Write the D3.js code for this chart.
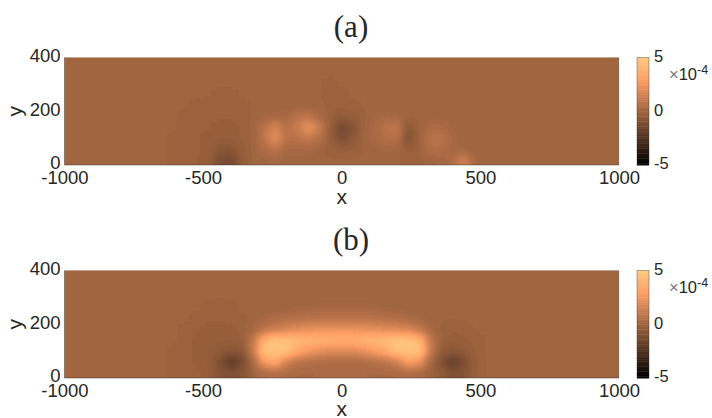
<!DOCTYPE html>
<html><head><meta charset="utf-8">
<script src="https://cdn.jsdelivr.net/npm/d3@7/dist/d3.min.js"></script>
<style>html,body{margin:0;background:#fff}svg{display:block}text{font-family:"Liberation Sans",Arial,sans-serif;fill:#262626}</style>
</head><body><svg id="c" width="712" height="418"></svg>
<script>
// Field values in units of 1e-4.
const xCentres = [-640,-600,-560,-520,-480,-440,-400,-360,-320,-280,-240,-200,-160,-120,-80,-40,0,40,80,120,160,200,240,280,320,360,400,440,480,520];
const yCentres = [300,260,220,180,140,100,60,20];
const fieldA = [
 [0,0,0,0,0,0,0,0,0,0,0,0,0,0,0,-.05,0,0,0,0,0,0,0,0,0,0,0,0,0,0],
 [0,0,0,0,0,-.06,-.06,0,0,0,0,0,0,0,0,-.08,-.05,0,0,0,0,0,0,0,0,0,0,0,0,0],
 [0,0,0,-.05,-.1,-.12,-.12,-.05,0,0,0,0,0,.12,.05,-.08,-.1,-.05,0,0,0,0,0,0,0,0,0,0,0,0],
 [0,0,-.08,-.12,-.12,-.12,-.12,-.1,0,.15,.25,.3,.8,.9,.35,-.1,-.4,-.3,-.05,.2,.25,.2,.1,0,.1,.1,0,0,0,0],
 [0,0,-.12,-.15,-.15,-.2,-.2,-.12,0,.8,1.8,.7,1.3,2.6,1.3,-.3,-1.4,-.9,0,.35,.9,1.0,-.6,0,.4,.4,.1,0,0,0],
 [0,-.05,-.12,-.15,-.2,-.3,-.3,-.12,0,1.0,2.3,.8,.8,1.2,.7,-.25,-1.2,-.6,0,.35,.7,.8,-1.0,0,.8,.9,.3,0,0,0],
 [0,-.05,-.1,-.15,-.2,-.6,-.7,-.2,0,.5,1.0,.3,.3,.3,.1,-.1,-.3,-.1,0,.1,.2,.1,-.3,0,.6,.6,.2,.1,0,0],
 [0,-.05,-.1,-.15,-.3,-1.1,-1.3,-.4,.05,.1,.2,.1,.1,.1,.05,0,0,0,0,.05,.1,0,-.05,-.05,.1,.2,.4,1.5,.2,0]
];
const fieldB = [
 [0,0,0,0,0,0,0,0,0,0,0,0,0,0,0,0,0,0,0,0,0,0,0,0,0,0,0,0,0,0],
 [0,0,0,0,-.05,-.08,-.04,0,0,0,0,.1,.15,.2,.25,.25,.25,.25,.25,.2,.15,.1,0,0,0,0,0,0,0,0],
 [0,0,0,-.06,-.12,-.15,-.1,-.05,.05,.2,.4,.6,.7,.8,.9,.9,.9,.9,.9,.8,.7,.6,.4,.2,.05,0,0,0,0,0],
 [0,0,-.05,-.15,-.2,-.2,-.2,-.1,.2,.9,1.5,1.8,2.1,2.3,2.4,2.5,2.5,2.5,2.4,2.3,2.1,2.0,1.8,1.1,.3,-.05,-.15,-.1,0,0],
 [0,0,-.08,-.2,-.25,-.3,-.3,-.2,1.0,4.0,5.8,4.8,4.4,4.2,4.1,4.0,4.0,4.0,4.2,4.4,4.7,5.0,5.4,4.2,1.1,-.1,-.25,-.2,-.1,0],
 [0,-.04,-.1,-.2,-.3,-.5,-.7,-.7,1.2,5.0,6.5,5,3.6,2.8,2.3,2.0,2.0,2.0,2.5,3,3.8,5.2,6.3,5.0,1.2,-.4,-.6,-.4,-.15,0],
 [0,-.04,-.1,-.2,-.3,-1,-2.1,-1.4,.2,2.8,3.8,1.6,.9,.6,.5,.4,.4,.4,.5,.7,1,1.6,3.2,2.6,.2,-1,-2.0,-1.2,-.2,0],
 [0,-.04,-.05,-.1,-.3,-.8,-1.0,-.8,0,.4,.6,.4,.3,.3,.35,.35,.35,.35,.35,.3,.3,.3,.5,.3,0,-.5,-1.0,-.8,-.2,0]
];
const xTicks = [-1000,-500,0,500,1000];
const yTicks = [0,200,400];
const cbTicks = [-5,0,5];
const panelTitles = ["(a)","(b)"];

const svg = d3.select("#c");
const colourLevels = 64;
const copper = d3.range(colourLevels).map(i => {
  const t = i / (colourLevels - 1);
  return [Math.min(1, 1.25 * t), 0.7812 * t, 0.4975 * t];
});
const copperCss = t => {
  const c = copper[Math.min(colourLevels - 1, Math.floor(t * colourLevels))];
  return `rgb(${c[0]*255},${c[1]*255},${c[2]*255})`;
};
const grey = d3.scaleLinear().domain([-5,5]).range([0,255]).clamp(true);
const greyCss = v => { const g = Math.round(grey(v)); return `rgb(${g},${g},${g})`; };
const tickText = d3.format("d");
const plain = d => tickText(d).replace("\u2212","-");

const defs = svg.append("defs");
const filter = defs.append("filter").attr("id","field")
  .attr("filterUnits","userSpaceOnUse").attr("x",0).attr("y",0).attr("width",712).attr("height",418)
  .attr("color-interpolation-filters","sRGB");
filter.append("feGaussianBlur").attr("stdDeviation",4.5);
const ct = filter.append("feComponentTransfer");
["R","G","B"].forEach((ch,k) => ct.append("feFunc"+ch).attr("type","discrete")
  .attr("tableValues", copper.map(c => c[k].toFixed(4)).join(" ")));

function styleTicks(sel, size) {
  sel.select(".domain").remove();
  sel.selectAll("text").attr("font-size",size).style("font-family",'"Liberation Sans"').attr("fill","#262626");
}

function panel(index, field, top, bottom, title, titleY, xLabelY) {
  const x = d3.scaleLinear().domain([-1000,1000]).range([64.5,619]);
  const y = d3.scaleLinear().domain([0,400]).range([bottom,top]);
  const clipId = "clip"+index;
  defs.append("clipPath").attr("id",clipId).append("rect")
    .attr("x",x(-1000)).attr("y",top).attr("width",x(1000)-x(-1000)).attr("height",bottom-top);
  const g = svg.append("g");
  const img = g.append("g").attr("clip-path",`url(#${clipId})`).append("g").attr("filter","url(#field)");
  img.append("rect").attr("x",x(-1000)-30).attr("y",top-30)
    .attr("width",x(1000)-x(-1000)+60).attr("height",bottom-top+60).attr("fill",greyCss(0));
  const cells = yCentres.flatMap((yc,r) => xCentres.map((xc,c) => ({xc,yc,v:field[r][c]})));
  img.selectAll("rect.cell").data(cells).join("rect").attr("class","cell")
    .attr("x",d => x(d.xc-20)).attr("width",d => x(d.xc+20)-x(d.xc-20))
    .attr("y",d => y(d.yc+20))
    .attr("height",d => d.yc === 20 ? y(0)-y(40)+30 : y(d.yc-20)-y(d.yc+20))
    .attr("fill",d => greyCss(d.v));

  // frame: dark left and bottom, faint top and right
  const frame = g.append("g").attr("fill","none").attr("stroke","#262626").attr("stroke-width",0.8);
  frame.append("path").attr("d",`M${x(-1000)},${top}V${bottom}H${x(1000)}`).attr("stroke-opacity",0.5);
  frame.append("path").attr("d",`M${x(-1000)},${top}H${x(1000)}V${bottom}`).attr("stroke-opacity",0.12);

  const ax = g.append("g").attr("transform",`translate(0,${bottom})`)
    .call(d3.axisBottom(x).tickValues(xTicks).tickFormat(plain).tickSize(0).tickPadding(6));
  styleTicks(ax, 18.5);
  const ay = g.append("g").attr("transform",`translate(${x(-1000)},-2)`)
    .call(d3.axisLeft(y).tickValues(yTicks).tickFormat(plain).tickSize(0).tickPadding(4));
  styleTicks(ay, 18.5);

  g.append("text").attr("x",x(0)).attr("y",xLabelY).attr("text-anchor","middle").attr("font-size",21).text("x");
  g.append("text").attr("transform",`translate(22,${(top+bottom)/2}) rotate(-90)`).attr("text-anchor","middle").attr("font-size",21).text("y");
  g.append("text").attr("x",351).attr("y",titleY).attr("text-anchor","middle")
    .style("font-family",'"Liberation Serif",serif').attr("font-size",31).attr("fill","#111").text(title);

  // colour bar
  const cy = d3.scaleLinear().domain([-5,5]).range([bottom,top]);
  const cbLeft = 637, cbRight = 649;
  g.append("g").selectAll("rect").data(d3.range(colourLevels)).join("rect")
    .attr("x",cbLeft).attr("width",cbRight-cbLeft)
    .attr("y",i => cy(-5 + 10*(i+1)/colourLevels)).attr("height",i => cy(-5 + 10*i/colourLevels)-cy(-5 + 10*(i+1)/colourLevels)+0.4)
    .attr("fill",i => copperCss((i+0.5)/colourLevels));
  g.append("rect").attr("x",cbLeft).attr("y",top).attr("width",cbRight-cbLeft).attr("height",bottom-top)
    .attr("fill","none").attr("stroke","#262626").attr("stroke-opacity",0.45).attr("stroke-width",0.8);
  const ac = g.append("g").attr("transform",`translate(${cbRight},-1.5)`)
    .call(d3.axisRight(cy).tickValues(cbTicks).tickFormat(plain).tickSize(0).tickPadding(5));
  styleTicks(ac, 16.5);
  const ex = g.append("text").attr("x",669).attr("y",top+22).attr("font-size",16.5);
  ex.append("tspan").attr("fill","#777").text("\u00d7");
  ex.append("tspan").attr("fill","#262626").text("10");
  ex.append("tspan").attr("dy",-6).attr("font-size",12.5).text("-4");
}
panel(0, fieldA, 57.5, 165, panelTitles[0], 37, 204);
panel(1, fieldB, 270.5, 378, panelTitles[1], 250, 416);
</script></body></html>
